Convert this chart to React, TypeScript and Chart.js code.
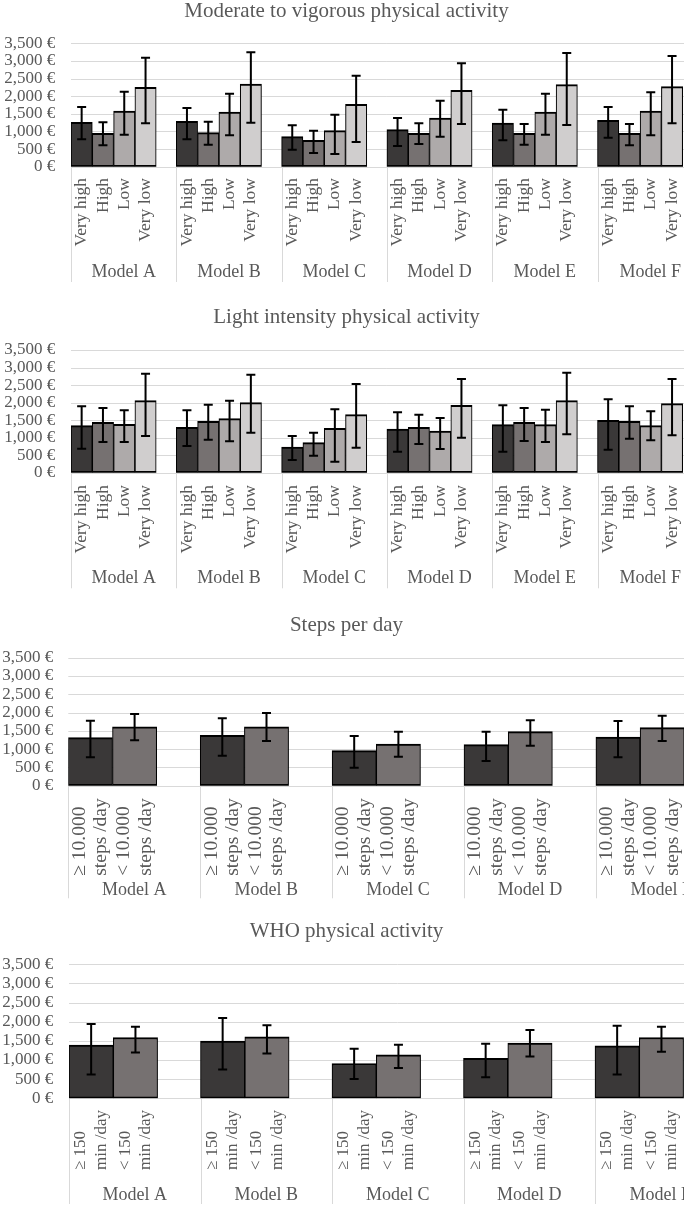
import React, { useEffect, useRef } from 'react';
import { Chart, registerables } from 'chart.js';

Chart.register(...registerables);

const FONT = "'Liberation Serif', 'Times New Roman', serif";
const TEXT = '#595959';
const GRID = '#d9d9d9';

// ---------- data ----------
const yTickValues = [0, 500, 1000, 1500, 2000, 2500, 3000, 3500];
const yTickLabels = ['0 €', '500 €', '1,000 €', '1,500 €', '2,000 €', '2,500 €', '3,000 €', '3,500 €'];

const modelsSix = ['Model A', 'Model B', 'Model C', 'Model D', 'Model E', 'Model F'];
const modelsFive = ['Model A', 'Model B', 'Model C', 'Model D', 'Model E'];

const levelLabels = [['Very high'], ['High'], ['Low'], ['Very low']];
const levelColors = ['#3A3838', '#767171', '#AEAAAA', '#D0CECE'];
const stepsLabels = [['≥ 10.000', 'steps /day'], ['< 10.000', 'steps /day']];
const whoLabels = [['≥ 150', 'min /day'], ['< 150', 'min /day']];
const twoColors = ['#3A3838', '#767171'];

// Moderate to vigorous physical activity (rows: Very high, High, Low, Very low)
const mvpaMean = [
  [1258, 1287, 851, 1050, 1239, 1315],
  [946, 965, 747, 946, 946, 946],
  [1580, 1551, 1022, 1381, 1551, 1580],
  [2251, 2346, 1769, 2166, 2327, 2270],
];
const mvpaLower = [
  [776, 776, 482, 587, 747, 823],
  [605, 624, 388, 643, 624, 605],
  [908, 889, 359, 851, 908, 889],
  [1230, 1249, 700, 1211, 1183, 1230],
];
const mvpaUpper = [
  [1693, 1665, 1173, 1381, 1618, 1693],
  [1258, 1277, 1022, 1230, 1211, 1211],
  [2128, 2072, 1476, 1873, 2072, 2110],
  [3093, 3245, 2583, 2933, 3226, 3141],
];

// Light intensity physical activity
const lpaMean = [
  [1341, 1293, 732, 1246, 1370, 1493],
  [1436, 1465, 856, 1293, 1436, 1465],
  [1379, 1541, 1265, 1189, 1370, 1341],
  [2054, 1997, 1655, 1921, 2054, 1969],
];
const lpaLower = [
  [685, 761, 361, 599, 599, 656],
  [875, 942, 485, 818, 904, 970],
  [875, 894, 314, 675, 875, 923],
  [1046, 1141, 713, 999, 1094, 1065],
];
const lpaUpper = [
  [1893, 1779, 1046, 1721, 1921, 2092],
  [1845, 1940, 1141, 1655, 1845, 1893],
  [1779, 2054, 1807, 1560, 1797, 1750],
  [2825, 2796, 2530, 2672, 2853, 2672],
];

// Steps per day
const stepsMean = [
  [1313, 1376, 957, 1121, 1331],
  [1613, 1613, 1139, 1477, 1586],
];
const stepsLower = [
  [775, 820, 492, 675, 775],
  [1240, 1221, 793, 1094, 1221],
];
const stepsUpper = [
  [1777, 1841, 1358, 1477, 1768],
  [1960, 1987, 1477, 1787, 1914],
];

// WHO physical activity
const whoMean = [
  [1388, 1493, 908, 1047, 1370],
  [1589, 1606, 1135, 1440, 1589],
];
const whoLower = [
  [620, 751, 506, 550, 620],
  [1196, 1170, 794, 1091, 1213],
];
const whoUpper = [
  [1938, 2095, 1292, 1423, 1894],
  [1868, 1911, 1396, 1781, 1868],
];

// ---------- layout ----------
type Geo = {
  top: number; height: number; titleBaseline: number; gridTop: number; gridBottom: number;
  visualLeft: number; groupW: number; barW: number; labelTop: number; modelBaseline: number;
  sepEnd: number; tickRight: number; lineSpacing: number; labelFont: number;
};

const geo1: Geo = { top: 0, height: 292, titleBaseline: 16.7, gridTop: 43.3, gridBottom: 166.7, visualLeft: 71, groupW: 105.3, barW: 21.3, labelTop: 178, modelBaseline: 277.3, sepEnd: 282, tickRight: 55.3, lineSpacing: 21, labelFont: 17.5 };
const geo2: Geo = { top: 292, height: 306, titleBaseline: 323.3, gridTop: 350, gridBottom: 472.7, visualLeft: 71, groupW: 105.3, barW: 21.3, labelTop: 485, modelBaseline: 583.3, sepEnd: 588.3, tickRight: 55.3, lineSpacing: 21, labelFont: 17.5 };
const geo3: Geo = { top: 598, height: 305, titleBaseline: 631, gridTop: 657.7, gridBottom: 785.7, visualLeft: 68.3, groupW: 131.9, barW: 44.2, labelTop: 798.3, modelBaseline: 895, sepEnd: 898.3, tickRight: 53.3, lineSpacing: 21.7, labelFont: 19.5 };
const geo4: Geo = { top: 903, height: 303, titleBaseline: 936.7, gridTop: 964.3, gridBottom: 1098.3, visualLeft: 69, groupW: 131.5, barW: 44.3, labelTop: 1110, modelBaseline: 1200, sepEnd: 1204, tickRight: 53.3, lineSpacing: 20.6, labelFont: 17 };

type PanelProps = {
  title: string; models: string[]; seriesLabels: string[][]; colors: string[];
  means: number[][]; lowers: number[][]; uppers: number[][]; geo: Geo;
};

function Panel({ title, models, seriesLabels, colors, means, lowers, uppers, geo }: PanelProps) {
  const ref = useRef<HTMLCanvasElement>(null);
  const nSeries = means.length;
  const clusterW = nSeries * geo.barW;
  const chartLeft = geo.visualLeft;
  const chartRight = chartLeft + models.length * geo.groupW;
  const canvasW = Math.ceil(chartRight) + 4;
  // x value of the visual left edge of the first group (bar clusters start at the group edge)
  const xMin = -clusterW / (2 * geo.groupW);
  const xMax = xMin + models.length;

  useEffect(() => {
    if (!ref.current) return;
    const local = (y: number) => y - geo.top;

    const custom = {
      id: 'custom',
      beforeDatasetsDraw(chart: any) {
        const ctx = chart.ctx;
        const xs = chart.scales.x;
        const ys = chart.scales.y;
        ctx.save();
        ctx.strokeStyle = GRID;
        ctx.lineWidth = 1;
        ys.ticks.forEach((t: any) => {
          const y = Math.round(ys.getPixelForValue(t.value)) + 0.5;
          ctx.beginPath();
          ctx.moveTo(chart.chartArea.left, y);
          ctx.lineTo(chart.chartArea.right, y);
          ctx.stroke();
        });
        const y0 = ys.getPixelForValue(0);
        for (let i = 0; i <= models.length; i++) {
          const x = Math.round(xs.getPixelForValue(i + xMin)) + 0.5;
          ctx.beginPath();
          ctx.moveTo(x, y0);
          ctx.lineTo(x, local(geo.sepEnd));
          ctx.stroke();
        }
        ctx.restore();
      },
      afterDatasetsDraw(chart: any) {
        const ctx = chart.ctx;
        const ys = chart.scales.y;
        ctx.save();
        ctx.strokeStyle = '#000';
        ctx.lineWidth = 2;
        for (let d = 0; d < nSeries; d++) {
          const meta = chart.getDatasetMeta(d);
          meta.data.forEach((el: any, i: number) => {
            const x = el.x;
            const yl = ys.getPixelForValue(lowers[d][i]);
            const yu = ys.getPixelForValue(uppers[d][i]);
            const cap = 4.5;
            ctx.beginPath();
            ctx.moveTo(x, yl);
            ctx.lineTo(x, yu);
            ctx.moveTo(x - cap, yl);
            ctx.lineTo(x + cap, yl);
            ctx.moveTo(x - cap, yu);
            ctx.lineTo(x + cap, yu);
            ctx.stroke();
          });
        }
        ctx.restore();
      },
      afterDraw(chart: any) {
        const ctx = chart.ctx;
        const xs = chart.scales.x;
        ctx.save();
        ctx.fillStyle = TEXT;
        // title
        ctx.font = `21px ${FONT}`;
        ctx.textAlign = 'center';
        ctx.textBaseline = 'alphabetic';
        ctx.fillText(title, 346.5, local(geo.titleBaseline));
        // category labels (rotated, block top-aligned, lines start-aligned)
        ctx.font = `${geo.labelFont}px ${FONT}`;
        for (let d = 0; d < nSeries; d++) {
          const lines = seriesLabels[d];
          const maxW = Math.max(...lines.map((l) => ctx.measureText(l).width));
          const bottom = local(geo.labelTop) + maxW;
          const meta = chart.getDatasetMeta(d);
          meta.data.forEach((el: any) => {
            lines.forEach((line, k) => {
              const lx = el.x + (k - (lines.length - 1) / 2) * geo.lineSpacing;
              ctx.save();
              ctx.translate(lx, bottom);
              ctx.rotate(-Math.PI / 2);
              ctx.textAlign = 'left';
              ctx.textBaseline = 'middle';
              ctx.fillText(line, 0, 0);
              ctx.restore();
            });
          });
        }
        // model labels
        ctx.font = `18px ${FONT}`;
        ctx.textAlign = 'center';
        ctx.textBaseline = 'alphabetic';
        models.forEach((m, i) => {
          const x = xs.getPixelForValue(i + xMin + 0.5);
          ctx.fillText(m, x, local(geo.modelBaseline));
        });
        ctx.restore();
      },
    };

    const chart = new Chart(ref.current, {
      type: 'bar',
      data: {
        datasets: means.map((vals, d) => ({
          label: seriesLabels[d].join(' '),
          data: vals.map((v, i) => ({ x: i, y: v })),
          backgroundColor: colors[d],
          borderColor: '#000',
          borderWidth: { top: 2, bottom: 2, left: 1.1, right: 1.1 },
          borderSkipped: false,
          barThickness: geo.barW,
        })),
      },
      options: {
        responsive: false,
        maintainAspectRatio: false,
        animation: false,
        layout: {
          padding: {
            left: 0,
            top: local(geo.gridTop),
            right: canvasW - chartRight,
            bottom: geo.height - local(geo.gridBottom),
          },
        },
        plugins: { legend: { display: false }, tooltip: { enabled: false }, title: { display: false } },
        scales: {
          x: {
            type: 'linear',
            display: false,
            min: xMin,
            max: xMax,
            offset: false,
            ticks: { stepSize: 1, includeBounds: false },
          },
          y: {
            min: 0,
            max: 3500,
            afterFit: (s: any) => { s.width = chartLeft; },
            grid: { display: false, drawTicks: false },
            border: { display: false },
            ticks: {
              stepSize: 500,
              autoSkip: false,
              padding: chartLeft - geo.tickRight,
              color: TEXT,
              font: { family: FONT, size: 17 },
              callback: (v: any) => {
                const idx = yTickValues.indexOf(Number(v));
                return idx >= 0 ? yTickLabels[idx] : '';
              },
            },
          },
        },
      },
      plugins: [custom],
    } as any);
    return () => chart.destroy();
  }, []);

  return (
    <canvas
      ref={ref}
      width={canvasW}
      height={geo.height}
      style={{ position: 'absolute', left: 0, top: geo.top, width: canvasW, height: geo.height }}
    />
  );
}

export default function App() {
  return (
    <div style={{ position: 'absolute', left: 0, top: 0, width: 684, height: 1206, overflow: 'hidden', background: '#fff' }}>
      <Panel title="Moderate to vigorous physical activity" models={modelsSix} seriesLabels={levelLabels} colors={levelColors} means={mvpaMean} lowers={mvpaLower} uppers={mvpaUpper} geo={geo1} />
      <Panel title="Light intensity physical activity" models={modelsSix} seriesLabels={levelLabels} colors={levelColors} means={lpaMean} lowers={lpaLower} uppers={lpaUpper} geo={geo2} />
      <Panel title="Steps per day" models={modelsFive} seriesLabels={stepsLabels} colors={twoColors} means={stepsMean} lowers={stepsLower} uppers={stepsUpper} geo={geo3} />
      <Panel title="WHO physical activity" models={modelsFive} seriesLabels={whoLabels} colors={twoColors} means={whoMean} lowers={whoLower} uppers={whoUpper} geo={geo4} />
    </div>
  );
}
